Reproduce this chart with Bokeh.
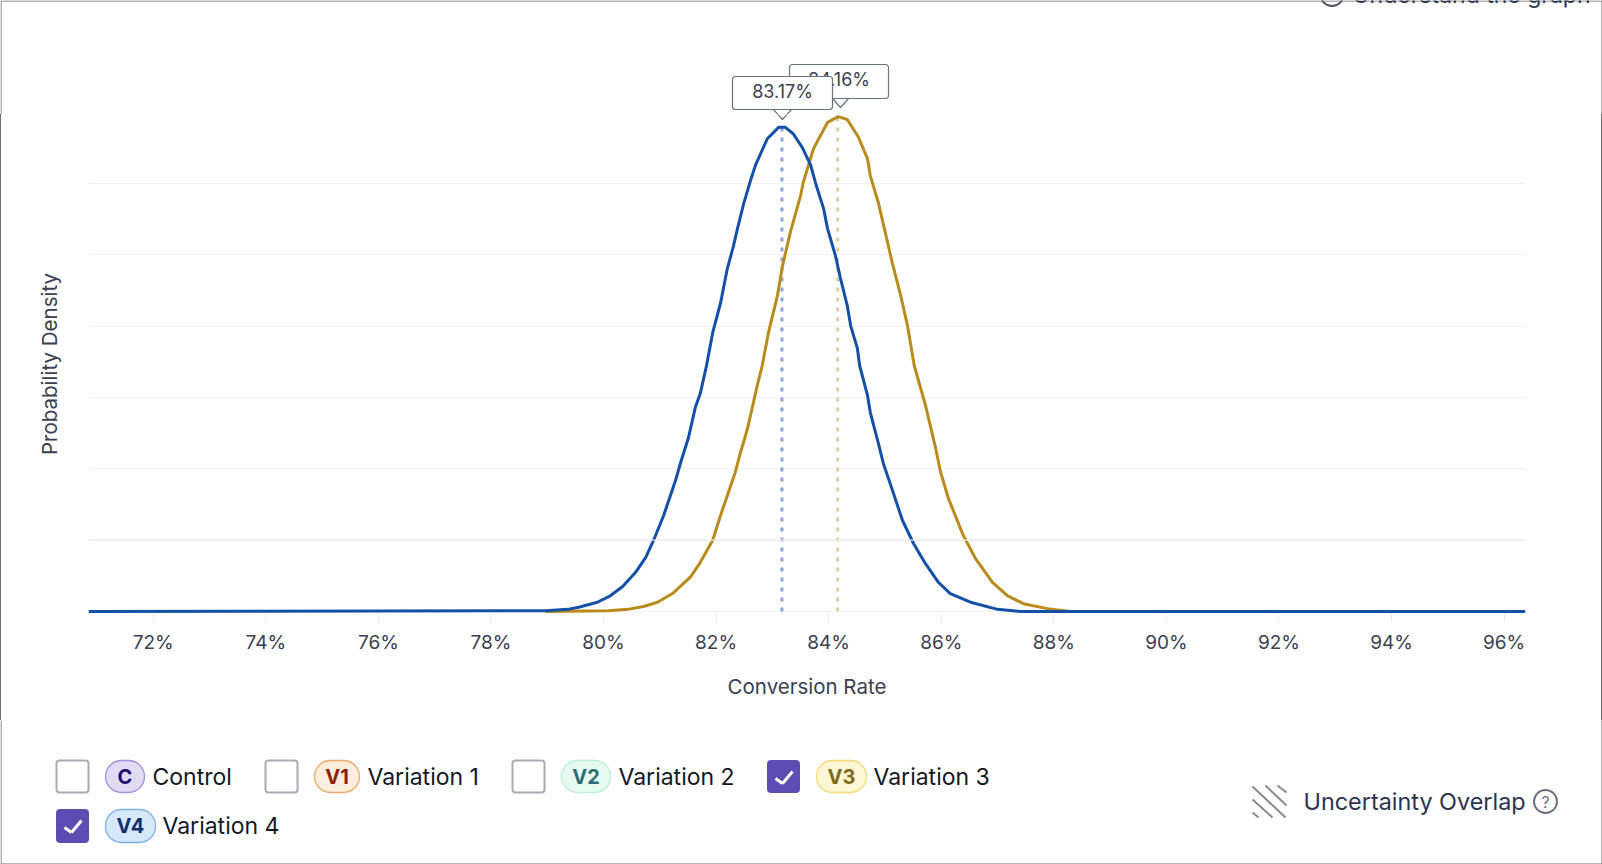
from bokeh.plotting import figure
from bokeh.layouts import column, row
from bokeh.models import (Range1d, FixedTicker, Label, BoxAnnotation, PolyAnnotation, Span, Div)
from bokeh.embed import file_html
from bokeh.resources import INLINE

# ---- data ----
blue_x = [70.85, 78.97, 79.36, 79.56, 79.89, 80.12, 80.34, 80.57, 80.75, 80.89, 81.07, 81.28, 81.37, 81.51, 81.63,
          81.72, 81.83, 81.94, 82.08, 82.20, 82.31, 82.38, 82.49, 82.61, 82.70, 82.91, 83.11, 83.23, 83.37, 83.53,
          83.68, 83.77, 83.91, 83.98, 84.12, 84.21, 84.33, 84.39, 84.51, 84.55, 84.69, 84.74, 84.88, 84.97, 85.12,
          85.31, 85.51, 85.72, 85.95, 86.16, 86.52, 87.00, 87.41, 96.38]
blue_y = [0, 0.01, 0.03, 0.06, 0.13, 0.22, 0.35, 0.55, 0.76, 1.00, 1.35, 1.84, 2.09, 2.44, 2.86,
          3.06, 3.45, 3.91, 4.33, 4.81, 5.13, 5.37, 5.72, 6.04, 6.26, 6.63, 6.79, 6.79, 6.70, 6.51,
          6.26, 6.00, 5.65, 5.37, 4.99, 4.67, 4.29, 4.01, 3.69, 3.45, 3.03, 2.79, 2.37, 2.08, 1.73,
          1.28, 0.95, 0.67, 0.41, 0.25, 0.13, 0.03, 0, 0]
gold_x = [78.97, 80.09, 80.43, 80.71, 80.96, 81.24, 81.55, 81.72, 81.94, 82.08, 82.34, 82.43, 82.56, 82.66, 82.74,
          82.82, 82.93, 83.09, 83.18, 83.32, 83.50, 83.55, 83.73, 83.98, 84.17, 84.33, 84.53, 84.69, 84.74, 84.88,
          85.06, 85.13, 85.28, 85.40, 85.52, 85.72, 85.90, 85.99, 86.13, 86.39, 86.61, 86.91, 87.18, 87.46, 87.89, 88.29]
gold_y = [0, 0.01, 0.03, 0.07, 0.13, 0.26, 0.49, 0.69, 1.00, 1.35, 1.95, 2.22, 2.57, 2.92, 3.20,
          3.45, 3.91, 4.43, 4.85, 5.32, 5.83, 6.02, 6.49, 6.86, 6.94, 6.90, 6.65, 6.35, 6.11, 5.74,
          5.13, 4.89, 4.43, 4.01, 3.45, 2.89, 2.29, 1.95, 1.58, 1.07, 0.74, 0.41, 0.22, 0.11, 0.04, 0]
means = [83.17, 84.16]
peaks = [6.79, 6.94]
mean_labels = ["83.17%", "84.16%"]
tick_values = [72, 74, 76, 78, 80, 82, 84, 86, 88, 90, 92, 94, 96]
tick_labels = ["72%", "74%", "76%", "78%", "80%", "82%", "84%", "86%", "88%", "90%", "92%", "94%", "96%"]
grid_values = [0, 1, 2, 3, 4, 5, 6]
legend_names = ["Control", "Variation 1", "Variation 2", "Variation 3", "Variation 4"]
legend_tags = ["C", "V1", "V2", "V3", "V4"]
legend_checked = [False, False, False, True, True]

FONT = "Inter"
BLUE, GOLD = "#1450a8", "#b98b1c"
FRAME = "#6f6f6f"
W = 1602
TOP_Y, CHART_Y, LEG_Y = 0, 114, 720
TOP_H, CHART_H, LEG_H = 114, 606, 144


def blank(h):
    return figure(width=W, height=h, output_backend="svg", toolbar_location=None,
                  x_range=Range1d(0, 1), y_range=Range1d(0, 1), x_axis_type=None, y_axis_type=None,
                  min_border=0, outline_line_color=None, background_fill_color="white", border_fill_color="white",
                  frame_align=False, margin=0)


top = blank(TOP_H)
leg = blank(LEG_H)

p = figure(width=W - 2, height=CHART_H, output_backend="svg", toolbar_location=None,
           x_range=Range1d(70.85, 96.38), y_range=Range1d(-0.028, 6.97),
           min_border_left=87, min_border_right=76, min_border_top=0, min_border_bottom=107,
           outline_line_color=None, background_fill_color="white", border_fill_color="white",
           x_axis_label="Conversion Rate", y_axis_label="Probability Density",
           frame_align=False, margin=0)

p.xgrid.visible = False
p.ygrid.ticker = FixedTicker(ticks=grid_values)
p.ygrid.grid_line_color = "#f2f2f2"
p.ygrid.grid_line_width = 1
p.add_layout(Span(location=grid_values[1], dimension="width", line_color="#e9e9e9", line_width=1.3), "center")

xa = p.xaxis[0]
xa.ticker = FixedTicker(ticks=tick_values)
xa.major_label_overrides = dict(zip(tick_values, tick_labels))
xa.axis_line_color = None
xa.major_tick_line_color = "#ececec"
xa.major_tick_out = 8
xa.major_tick_in = 0
xa.minor_tick_line_color = None
xa.major_label_standoff = 9
xa.major_label_text_font = FONT
xa.major_label_text_font_size = "19px"
xa.major_label_text_color = "#3b4050"
xa.axis_label_text_font = FONT
xa.axis_label_text_font_style = "normal"
xa.axis_label_text_font_size = "20.5px"
xa.axis_label_text_color = "#3b4050"
xa.axis_label_standoff = 17

ya = p.yaxis[0]
ya.ticker = FixedTicker(ticks=grid_values)
ya.major_label_text_font_size = "0px"
ya.major_label_text_color = None
ya.axis_line_color = None
ya.major_tick_line_color = None
ya.minor_tick_line_color = None
ya.axis_label_text_font = FONT
ya.axis_label_text_font_style = "normal"
ya.axis_label_text_font_size = "20.5px"
ya.axis_label_text_color = "#3b4050"
ya.axis_label_standoff = 21

p.segment([means[0]], [0], [means[0]], [peaks[0]], line_color="#8aa6da", line_width=3, line_dash="4 6")
p.segment([means[1]], [0], [means[1]], [peaks[1]], line_color="#e0cc9c", line_width=3, line_dash="4 6")
p.line(gold_x, gold_y, line_color=GOLD, line_width=3)
p.line(blue_x, blue_y, line_color=BLUE, line_width=3)


def box(f, dy, l, t, r, b, fill="white", line="#6b7280", lw=1.2, radius=3):
    f.add_layout(BoxAnnotation(left=l, right=r, top=t - dy, bottom=b - dy,
                               left_units="canvas", right_units="canvas", top_units="canvas", bottom_units="canvas",
                               fill_color=fill, fill_alpha=1 if fill else 0, line_color=line, line_width=lw,
                               line_alpha=1, border_radius=radius))


def poly(f, dy, xs, ys, fill=None, line="#6b7280", lw=1.2, ox=0):
    f.add_layout(PolyAnnotation(xs=[x - ox for x in xs], ys=[y - dy for y in ys],
                                xs_units="canvas", ys_units="canvas",
                                fill_color=fill, fill_alpha=1 if fill else 0, line_color=line, line_width=lw,
                                line_alpha=1))


def text(f, dy, x, y, s, size="23px", color="#15181f", align="left", style="normal"):
    f.add_layout(Label(x=x, y=y - dy, x_units="canvas", y_units="canvas", text=s, text_font=FONT,
                       text_font_size=size, text_color=color, text_align=align, text_baseline="middle",
                       text_font_style=style))


# screenshot frame: top and sides of the upper strip, sides and bottom of the lower strip
box(top, TOP_Y, 0.5, 0.5, 1601.5, 300, fill=None, line=FRAME, lw=1, radius=0)
box(leg, LEG_Y, 0.5, 500, 1601.5, 863.5, fill=None, line=FRAME, lw=1, radius=0)

# mean tooltips (gold first, blue on top); the blue pointer crosses into the chart figure
poly(top, TOP_Y, [832, 840, 848], [98, 107, 98], fill="white")
box(top, TOP_Y, 789, 64, 888, 98)
text(top, TOP_Y, 838.5, 79, mean_labels[1], "18px", "#3b4050", "center")
poly(top, TOP_Y, [773, 782, 791], [109, 119, 109], fill="white")
poly(p, CHART_Y, [773, 782, 791], [109, 119, 109], fill="white", ox=1)
box(top, TOP_Y, 732, 76, 832, 109)
text(top, TOP_Y, 782, 91, mean_labels[0], "18px", "#3b4050", "center")

# cropped link at the top
box(top, TOP_Y, 1320, -18, 1343, 5.5, fill=None, line="#4b5563", lw=2, radius=12)
text(top, TOP_Y, 1352, -6, "Understand the graph", "23px", "#2b3450")

# legend
rows = [(760, 792), (760, 792), (760, 792), (760, 792), (809, 842)]
checks = [56, 265, 512, 767, 56]
pills = [(105, 144), (314, 359), (561, 610), (816, 866), (105, 155)]
pill_fill = ["#e2dbf6", "#fbeedd", "#e8fbf2", "#fff7d6", "#d6e9fa"]
pill_line = ["#a590e0", "#eeaa6e", "#bfeeda", "#f6da78", "#7fb2e6"]
pill_text = ["#1f1470", "#8f1f0c", "#2b6f72", "#7f6a1a", "#15306f"]
names_x = [152, 367, 618, 873, 162]
for i, name in enumerate(legend_names):
    t, b = rows[i]
    c = checks[i]
    if legend_checked[i]:
        box(leg, LEG_Y, c, t, c + 32, b, fill="#5d4db3", line="#5d4db3", lw=1, radius=3)
        poly(leg, LEG_Y, [c + 8, c + 15], [t + 18, t + 23], line="white", lw=3)
        poly(leg, LEG_Y, [c + 15, c + 25], [t + 23, t + 11], line="white", lw=3)
    else:
        box(leg, LEG_Y, c, t, c + 32, b, fill="white", line="#a9abb3", lw=2, radius=3)
    l, r = pills[i]
    box(leg, LEG_Y, l, t, r, b, fill=pill_fill[i], line=pill_line[i], lw=1.3, radius=16)
    text(leg, LEG_Y, (l + r) / 2, (t + b) / 2, legend_tags[i], "20px", pill_text[i], "center", "bold")
    text(leg, LEG_Y, names_x[i], (t + b) / 2, name, "23px", "#15181f")

# uncertainty overlap
for x0, y0, x1, y1 in [(1252, 786, 1285, 817), (1265, 785, 1286, 805), (1277, 785, 1286, 792),
                       (1252, 799, 1272, 817), (1252, 812, 1258, 817)]:
    poly(leg, LEG_Y, [x0, x1], [y0, y1], line="#8a8a8a", lw=2)
text(leg, LEG_Y, 1303, 801, "Uncertainty Overlap", "23.4px", "#2b3450")
box(leg, LEG_Y, 1533.5, 789.5, 1556.5, 812.5, fill=None, line="#6b7280", lw=2, radius=12)
text(leg, LEG_Y, 1545, 801, "?", "16px", "#6b7280", "center")


def edge():
    return Div(width=1, height=CHART_H, margin=0, styles={"background-color": FRAME})


middle = row(edge(), p, edge(), spacing=0, width=W, height=CHART_H, margin=0)
page = column(top, middle, leg, spacing=0, width=W, height=864, margin=0)

open("out.html", "w").write(file_html(page, INLINE))
